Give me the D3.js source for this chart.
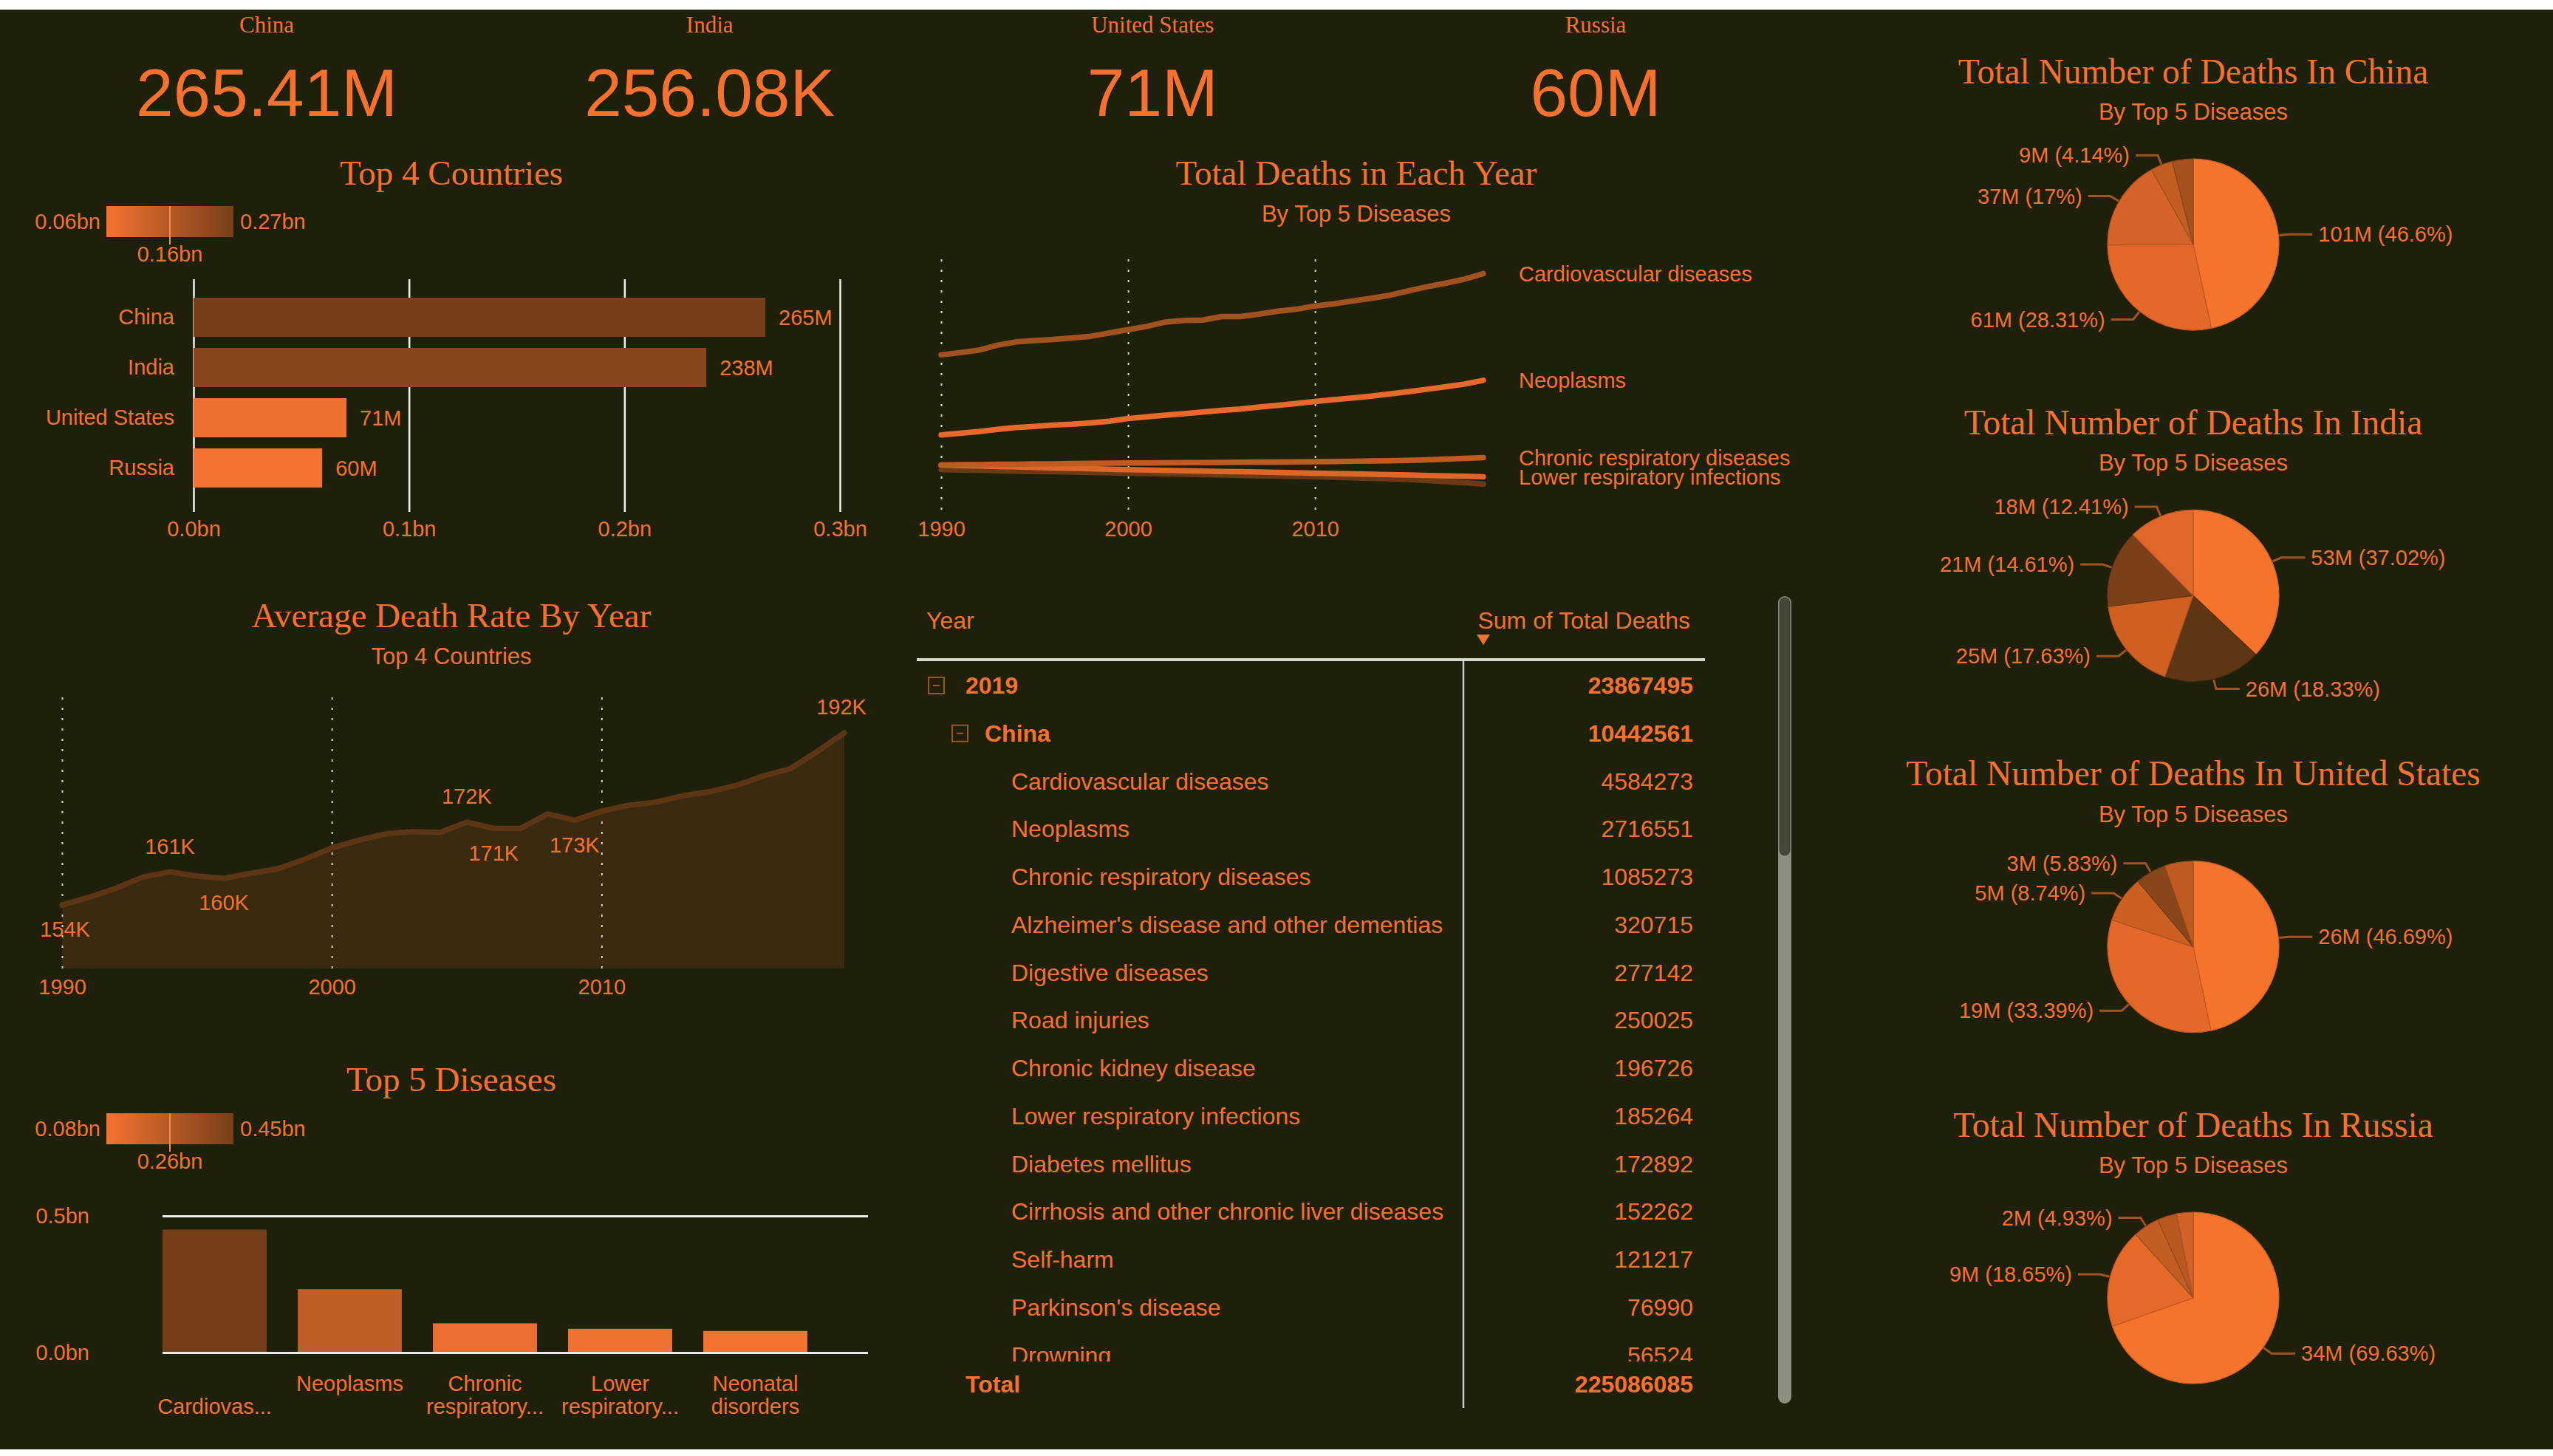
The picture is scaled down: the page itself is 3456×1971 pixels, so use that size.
<!DOCTYPE html>
<html lang="en">
<head>
<meta charset="UTF-8">
<script src="https://d3js.org/d3.v7.min.js"></script>
<style>
  body { margin: 0; background: #1f200c; }
  svg { display: block; }
</style>
</head>
<body>
<svg id="dash"></svg>
<script>
// ---- data ----
const cardLabels = ["China", "India", "United States", "Russia"];
const cardValues = ["265.41M", "256.08K", "71M", "60M"];

const countries = ["China", "India", "United States", "Russia"];
const countryDeaths = [265.41e6, 238e6, 71e6, 59.7e6];

const years = [1990, 1991, 1992, 1993, 1994, 1995, 1996, 1997, 1998, 1999,
               2000, 2001, 2002, 2003, 2004, 2005, 2006, 2007, 2008, 2009,
               2010, 2011, 2012, 2013, 2014, 2015, 2016, 2017, 2018, 2019];

// total deaths per year, millions
const cardioDeaths = [12.38, 12.55, 12.74, 13.12, 13.38, 13.48, 13.57, 13.69, 13.82, 14.07,
                      14.33, 14.58, 14.92, 15.04, 15.07, 15.34, 15.34, 15.53, 15.76, 15.91,
                      16.16, 16.33, 16.54, 16.76, 16.99, 17.33, 17.65, 17.93, 18.24, 18.66];
const neoplasmDeaths = [6.19, 6.31, 6.44, 6.61, 6.76, 6.84, 6.95, 7.01, 7.12, 7.24,
                        7.45, 7.58, 7.71, 7.83, 7.96, 8.09, 8.19, 8.34, 8.47, 8.62,
                        8.77, 8.91, 9.04, 9.19, 9.36, 9.53, 9.72, 9.91, 10.12, 10.41];
const chronicDeaths = [3.86, 3.88, 3.89, 3.91, 3.92, 3.94, 3.95, 3.97, 3.98, 4.00,
                       4.01, 4.02, 4.03, 4.04, 4.05, 4.06, 4.07, 4.08, 4.09, 4.10,
                       4.11, 4.13, 4.15, 4.17, 4.19, 4.22, 4.26, 4.31, 4.37, 4.43];
const lowerRespDeaths = [3.86, 3.82, 3.78, 3.74, 3.71, 3.67, 3.63, 3.60, 3.57, 3.53,
                         3.50, 3.47, 3.44, 3.42, 3.39, 3.36, 3.34, 3.31, 3.28, 3.26,
                         3.23, 3.20, 3.17, 3.14, 3.11, 3.08, 3.05, 3.02, 2.98, 2.95];
const neonatalDeaths = [3.50, 3.47, 3.45, 3.42, 3.39, 3.36, 3.34, 3.31, 3.28, 3.26,
                        3.23, 3.20, 3.17, 3.15, 3.12, 3.09, 3.06, 3.03, 3.01, 2.98,
                        2.95, 2.91, 2.87, 2.83, 2.79, 2.74, 2.66, 2.57, 2.48, 2.38];

// average death rate, thousands
const avgRate = [154.0, 155.7, 157.7, 160.2, 161.3, 160.4, 159.9, 161.0, 162.0, 164.1,
                 166.6, 168.3, 169.7, 170.2, 170.0, 172.3, 170.9, 170.9, 174.1, 172.7,
                 174.7, 176.0, 176.7, 178.1, 179.0, 180.4, 182.5, 184.1, 187.9, 192.0];
const avgLabelYears = [1990, 1994, 1996, 2005, 2006, 2009, 2019];

const diseases = ["Cardiovascular diseases", "Neoplasms", "Chronic respiratory diseases",
                  "Lower respiratory infections", "Neonatal disorders"];
const diseaseTotals = [0.450e9, 0.232e9, 0.107e9, 0.087e9, 0.079e9];
const diseaseTickLines = [["", "Cardiovas..."], ["Neoplasms"], ["Chronic", "respiratory..."],
                          ["Lower", "respiratory..."], ["Neonatal", "disorders"]];

const tableNames = ["2019", "China", "Cardiovascular diseases", "Neoplasms",
  "Chronic respiratory diseases", "Alzheimer's disease and other dementias",
  "Digestive diseases", "Road injuries", "Chronic kidney disease",
  "Lower respiratory infections", "Diabetes mellitus",
  "Cirrhosis and other chronic liver diseases", "Self-harm",
  "Parkinson's disease", "Drowning"];
const tableValues = [23867495, 10442561, 4584273, 2716551, 1085273, 320715, 277142,
                     250025, 196726, 185264, 172892, 152262, 121217, 76990, 56524];
const tableLevels = [0, 1, 2, 2, 2, 2, 2, 2, 2, 2, 2, 2, 2, 2, 2];
const tableTotal = 225086085;

// top 5 diseases per country, millions
const pieCountries = ["China", "India", "United States", "Russia"];
const chinaPie = [100.98, 61.35, 36.84, 8.97, 8.56];
const indiaPie = [53.01, 26.25, 25.25, 20.92, 17.77];
const usPie = [26.01, 18.60, 4.87, 3.25, 2.98];
const russiaPie = [34.00, 9.105, 2.407, 1.80, 1.518];

// ---- drawing ----
const W = 3456, H = 1971;
const BG = "#1f200c", ORANGE = "#f47130";
const SANS = "'Liberation Sans', Arial, sans-serif";
const SERIF = "'Liberation Serif', Georgia, serif";

const svg = d3.select("#dash").attr("width", W).attr("height", H);
svg.append("rect").attr("width", W).attr("height", H).attr("fill", BG);
svg.append("rect").attr("width", W).attr("height", 13).attr("fill", "#ffffff");
svg.append("rect").attr("y", 1962).attr("width", W).attr("height", 9).attr("fill", "#ffffff");

function txt(x, y, s, size, opt = {}) {
  return svg.append("text")
    .attr("x", x).attr("y", y).attr("dy", "0.35em")
    .attr("font-family", opt.serif ? SERIF : SANS)
    .attr("font-size", size)
    .attr("font-weight", opt.bold ? "bold" : null)
    .attr("text-anchor", opt.anchor || "middle")
    .attr("fill", opt.fill || ORANGE)
    .text(s);
}

function styleAxis(g, stroke, width, dash) {
  g.select(".domain").remove();
  g.selectAll(".tick line").attr("stroke", stroke).attr("stroke-width", width)
    .attr("stroke-dasharray", dash || null);
  g.selectAll(".tick text").attr("fill", ORANGE).attr("font-family", SANS).attr("font-size", 29);
}

const defs = svg.append("defs");
function gradientLegend(id, x, y, w, h, values) {
  const lo = d3.min(values), hi = d3.max(values);
  const grad = defs.append("linearGradient").attr("id", id);
  grad.append("stop").attr("offset", "0%").attr("stop-color", "#f47330");
  grad.append("stop").attr("offset", "100%").attr("stop-color", "#773f19");
  svg.append("rect").attr("x", x).attr("y", y).attr("width", w).attr("height", h)
    .attr("fill", `url(#${id})`);
  svg.append("line").attr("x1", x + w / 2).attr("x2", x + w / 2)
    .attr("y1", y).attr("y2", y + h + 10).attr("stroke", "#f58a4e").attr("stroke-width", 2);
  const f = v => (v / 1e9).toFixed(2) + "bn";
  txt(x - 8, y + h / 2, f(lo), 29, {anchor: "end"});
  txt(x + w + 9, y + h / 2, f(hi), 29, {anchor: "start"});
  txt(x + w / 2, y + h + 23, f((lo + hi) / 2), 29);
}

// cards
const cardX = d3.scalePoint().domain(cardLabels).range([361, 2160]);
cardLabels.forEach((c, i) => {
  txt(cardX(c), 33, c, 31, {serif: true});
  txt(cardX(c), 125, cardValues[i], 91);
});

// ---- Top 4 Countries ----
txt(611, 234, "Top 4 Countries", 47, {serif: true});
gradientLegend("gradC", 144, 279, 172, 42, countryDeaths);

const xC = d3.scaleLinear().domain([0, 0.3e9]).range([262, 1137]);
const yC = d3.scaleBand().domain(countries).range([395.5, 667.5])
  .paddingInner(0.22).paddingOuter(0.11);
const colC = d3.scaleLinear().domain(d3.extent(countryDeaths)).range(["#f47330", "#773f19"]);

const axC = svg.append("g").attr("transform", "translate(0,693)")
  .call(d3.axisBottom(xC).ticks(3).tickSize(-315).tickPadding(12)
    .tickFormat(d => (d / 1e9).toFixed(1) + "bn"));
styleAxis(axC, "#f2f2ee", 2.5);

svg.append("g").selectAll("rect").data(countries).join("rect")
  .attr("x", xC(0)).attr("y", d => yC(d))
  .attr("width", (d, i) => xC(countryDeaths[i]) - xC(0))
  .attr("height", yC.bandwidth())
  .attr("fill", (d, i) => colC(countryDeaths[i]));

const ayC = svg.append("g").attr("transform", `translate(${xC(0)},0)`)
  .call(d3.axisLeft(yC).tickSize(0).tickPadding(26));
styleAxis(ayC, "none", 0);

countries.forEach((c, i) => {
  txt(xC(countryDeaths[i]) + 18, yC(c) + yC.bandwidth() / 2,
      Math.round(countryDeaths[i] / 1e6) + "M", 29, {anchor: "start"});
});

// ---- Total Deaths in Each Year ----
txt(1836, 234, "Total Deaths in Each Year", 47, {serif: true});
txt(1836, 289, "By Top 5 Diseases", 31);

const xL = d3.scaleLinear().domain([1990, 2019]).range([1274, 2008]);
const yL = d3.scaleLinear().domain([0, 20]).range([697, 347]);
const axL = svg.append("g").attr("transform", "translate(0,690)")
  .call(d3.axisBottom(xL).tickValues([1990, 2000, 2010]).tickFormat(d3.format("d"))
    .tickSize(-339).tickPadding(15));
styleAxis(axL, "#d8d8cc", 2, "3,11");

const lineSeries = [
  {name: "Neonatal disorders", vals: neonatalDeaths, color: "#6c3916", label: false},
  {name: "Lower respiratory infections", vals: lowerRespDeaths, color: "#dd6628", label: true},
  {name: "Chronic respiratory diseases", vals: chronicDeaths, color: "#bf5b21", label: true},
  {name: "Neoplasms", vals: neoplasmDeaths, color: "#e8692a", label: true},
  {name: "Cardiovascular diseases", vals: cardioDeaths, color: "#a2521e", label: true}
];
const lineGen = d3.line().x((d, i) => xL(years[i])).y(d => yL(d));
lineSeries.forEach(s => {
  svg.append("path").attr("d", lineGen(s.vals)).attr("fill", "none")
    .attr("stroke", s.color).attr("stroke-width", 7.5)
    .attr("stroke-linecap", "round").attr("stroke-linejoin", "round");
});
lineSeries.filter(s => s.label).forEach(s => {
  txt(xL(2019) + 48, yL(s.vals[s.vals.length - 1]), s.name, 29, {anchor: "start"});
});

// ---- Average Death Rate By Year ----
txt(611, 833, "Average Death Rate By Year", 47, {serif: true});
txt(611, 888, "Top 4 Countries", 31);

const xA = d3.scaleLinear().domain([1990, 2019]).range([84, 1143]);
const yA = d3.scaleLinear().domain([140, 200]).range([1311, 943]);
svg.append("path")
  .attr("d", d3.area().x((d, i) => xA(years[i])).y0(yA(140)).y1(d => yA(d))(avgRate))
  .attr("fill", "#3a2a10");
const axA = svg.append("g").attr("transform", "translate(0,1311)")
  .call(d3.axisBottom(xA).tickValues([1990, 2000, 2010]).tickFormat(d3.format("d"))
    .tickSize(-368).tickPadding(14));
styleAxis(axA, "#d8d8cc", 2, "3,11");
svg.append("path")
  .attr("d", d3.line().x((d, i) => xA(years[i])).y(d => yA(d))(avgRate))
  .attr("fill", "none").attr("stroke", "#5c3515").attr("stroke-width", 7.5)
  .attr("stroke-linejoin", "round").attr("stroke-linecap", "round");

const labelAbove = {1994: true, 2005: true, 2019: true};
avgLabelYears.forEach(yr => {
  const v = avgRate[years.indexOf(yr)];
  const dx = yr === 1990 ? 4 : (yr === 2019 ? -4 : 0);
  txt(xA(yr) + dx, yA(v) + (labelAbove[yr] ? -35 : 33), Math.round(v) + "K", 29);
});

// ---- Top 5 Diseases ----
txt(611, 1461, "Top 5 Diseases", 47, {serif: true});
gradientLegend("gradD", 144, 1507, 172, 42, diseaseTotals);

const xD = d3.scaleBand().domain(diseases).range([199, 1114])
  .paddingInner(0.23).paddingOuter(0.115);
const yD = d3.scaleLinear().domain([0, 0.5e9]).range([1831, 1646]);
const colD = d3.scaleLinear().domain(d3.extent(diseaseTotals)).range(["#f47330", "#773f19"]);

svg.append("g").selectAll("rect").data(diseases).join("rect")
  .attr("x", d => xD(d)).attr("width", xD.bandwidth())
  .attr("y", (d, i) => yD(diseaseTotals[i]))
  .attr("height", (d, i) => yD(0) - yD(diseaseTotals[i]))
  .attr("fill", (d, i) => colD(diseaseTotals[i]));

const ayD = svg.append("g").attr("transform", "translate(220,0)")
  .call(d3.axisLeft(yD).tickValues([0, 0.5e9]).tickSize(-955).tickPadding(99)
    .tickFormat(d => (d / 1e9).toFixed(1) + "bn"));
styleAxis(ayD, "#ececE6", 3);

diseases.forEach((d, i) => {
  diseaseTickLines[i].forEach((line, j) => {
    txt(xD(d) + xD.bandwidth() / 2, 1873 + j * 31, line, 29);
  });
});

// ---- Matrix table ----
txt(1254, 840, "Year", 32, {anchor: "start"});
txt(2288, 840, "Sum of Total Deaths", 32, {anchor: "end"});
svg.append("path").attr("d", "M1999,859 L2017,859 L2008,873 Z").attr("fill", ORANGE);
svg.append("line").attr("x1", 1241).attr("x2", 2308).attr("y1", 893).attr("y2", 893)
  .attr("stroke", "#d9d9d2").attr("stroke-width", 4);
svg.append("line").attr("x1", 1981).attr("x2", 1981).attr("y1", 895).attr("y2", 1906)
  .attr("stroke", "#c8c8c0").attr("stroke-width", 2.5);

defs.append("clipPath").attr("id", "tblClip")
  .append("rect").attr("x", 1230).attr("y", 896).attr("width", 1100).attr("height", 947);
const body = svg.append("g").attr("clip-path", "url(#tblClip)");

const rowY = d3.scaleLinear().domain([0, 1]).range([928, 992.75]);
const indentIcon = [1257, 1289], indentText = [1307, 1333, 1369];
tableNames.forEach((name, i) => {
  const y = rowY(i), lvl = tableLevels[i], bold = lvl < 2;
  if (lvl < 2) {
    const ix = indentIcon[lvl];
    body.append("rect").attr("x", ix).attr("y", y - 11).attr("width", 21).attr("height", 22)
      .attr("fill", "none").attr("stroke", "#a0521f").attr("stroke-width", 2);
    body.append("line").attr("x1", ix + 6).attr("x2", ix + 15).attr("y1", y).attr("y2", y)
      .attr("stroke", "#a0521f").attr("stroke-width", 2);
  }
  body.append("text").attr("x", indentText[lvl]).attr("y", y).attr("dy", "0.35em")
    .attr("font-family", SANS).attr("font-size", 32).attr("fill", ORANGE)
    .attr("font-weight", bold ? "bold" : null).text(name);
  body.append("text").attr("x", 2292).attr("y", y).attr("dy", "0.35em")
    .attr("text-anchor", "end")
    .attr("font-family", SANS).attr("font-size", 32).attr("fill", ORANGE)
    .attr("font-weight", bold ? "bold" : null).text(tableValues[i]);
});
txt(1307, 1874, "Total", 32, {anchor: "start", bold: true});
txt(2292, 1874, tableTotal, 32, {anchor: "end", bold: true});

// scrollbar
svg.append("rect").attr("x", 2407).attr("y", 807).attr("width", 18).attr("height", 1093)
  .attr("rx", 9).attr("fill", "#8c8e7e");
svg.append("rect").attr("x", 2408.5).attr("y", 808.5).attr("width", 15).attr("height", 350)
  .attr("rx", 7.5).attr("fill", "#46473a");

// ---- Pies ----
const pieData = [chinaPie, indiaPie, usPie, russiaPie];
const pieColors = [
  ["#f6732b", "#e3682a", "#d4642a", "#c25d23", "#a5521f"],
  ["#f6732b", "#5f3614", "#cf6022", "#7a401a", "#e0672a"],
  ["#f6732b", "#e3682a", "#cc6023", "#8a461b", "#bf5b22"],
  ["#f6732b", "#e56a2a", "#c25d23", "#b95821", "#d0622a"]
];
const shownLabels = [4, 5, 4, 3];
const pieY = d3.scalePoint().domain(pieCountries).range([331, 1757]);
const R = 116, PX = 2969;
const pie = d3.pie().sort(null).value(d => d);
const arc = d3.arc().innerRadius(0).outerRadius(R);

pieCountries.forEach((c, k) => {
  const cy = pieY(c);
  txt(PX, cy - 235, "Total Number of Deaths In " + c, 47.5, {serif: true});
  txt(PX, cy - 180, "By Top 5 Diseases", 31);
  const vals = pieData[k];
  const total = d3.sum(vals);
  const g = svg.append("g").attr("transform", `translate(${PX},${cy})`);
  const arcs = pie(vals);
  g.selectAll("path").data(arcs).join("path")
    .attr("d", arc)
    .attr("fill", (d, i) => pieColors[k][i])
    .attr("stroke", (d, i) => d3.color(pieColors[k][i]).darker(0.5))
    .attr("stroke-width", 1.2);
  arcs.slice(0, shownLabels[k]).forEach(d => {
    const a = (d.startAngle + d.endAngle) / 2;
    const sx = Math.sin(a), sy = -Math.cos(a);
    const right = sx >= 0;
    const x1 = sx * (R + 1), y1 = sy * (R + 1);
    const x2 = sx * (R + 14), y2 = sy * (R + 14);
    const x3 = x2 + (right ? 32 : -30);
    g.append("polyline").attr("points", `${x1},${y1} ${x2},${y2} ${x3},${y2}`)
      .attr("fill", "none").attr("stroke", "#a3531f").attr("stroke-width", 3);
    const pct = +(d.value / total * 100).toFixed(2);
    g.append("text").attr("x", x3 + (right ? 8 : -8)).attr("y", y2).attr("dy", "0.35em")
      .attr("text-anchor", right ? "start" : "end")
      .attr("font-family", SANS).attr("font-size", 29).attr("fill", ORANGE)
      .text(`${Math.round(d.value)}M (${pct}%)`);
  });
});
</script>
</body>
</html>
